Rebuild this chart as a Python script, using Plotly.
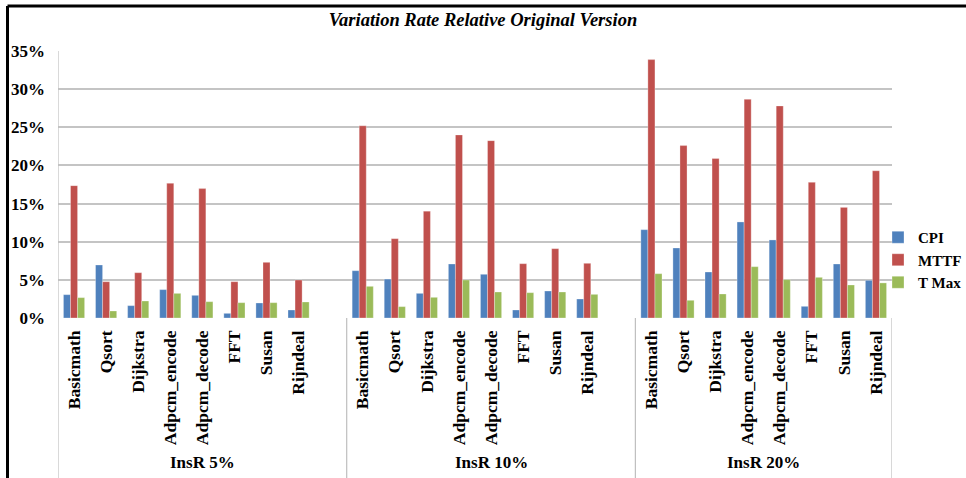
import plotly.graph_objects as go

benchmarks = ["Basicmath", "Qsort", "Dijkstra", "Adpcm_encode", "Adpcm_decode", "FFT", "Susan", "Rijndeal"]
groups = ["InsR 5%", "InsR 10%", "InsR 20%"]

cpi = [
    [3.06, 6.95, 1.62, 3.72, 2.97, 0.61, 1.97, 1.05],
    [6.2, 5.1, 3.23, 7.08, 5.73, 1.05, 3.54, 2.49],
    [11.58, 9.18, 6.03, 12.59, 10.23, 1.53, 7.08, 4.94],
]
mttf = [
    [17.35, 4.76, 5.94, 17.66, 16.96, 4.76, 7.3, 4.98],
    [25.2, 10.4, 14.0, 24.0, 23.25, 7.12, 9.09, 7.17],
    [33.87, 22.6, 20.9, 28.67, 27.8, 17.79, 14.5, 19.3],
]
tmax = [
    [2.67, 0.92, 2.23, 3.23, 2.14, 2.01, 2.01, 2.1],
    [4.15, 1.49, 2.71, 4.98, 3.41, 3.32, 3.41, 3.1],
    [5.81, 2.32, 3.15, 6.73, 5.03, 5.33, 4.33, 4.6],
]
y_ticks = [0, 5, 10, 15, 20, 25, 30, 35]

series = [("CPI", cpi, "#4F81BD"), ("MTTF", mttf, "#C0504D"), ("T Max", tmax, "#9BBB59")]

SLOT = len(benchmarks) + 1  # one blank slot between groups
xs = [g * SLOT + i for g in range(len(groups)) for i in range(len(benchmarks))]
xlabels = [b for _ in groups for b in benchmarks]

FONT = "Liberation Serif"
fig = go.Figure()
for name, vals, color in series:
    fig.add_trace(go.Bar(
        x=xs, y=[v / 100 for grp in vals for v in grp], name=name,
        marker=dict(color=color, line=dict(color="rgba(255,255,255,0.6)", width=0.5)),
    ))

W, H = 966, 478
L, R, T, B = 58, 892, 51, 318
def px_x(p):
    return (p - L) / (R - L)
def px_y(p):
    return (B - p) / (B - T)

shapes = []
# y axis line extended down
shapes.append(dict(type="line", xref="x", yref="paper", x0=-0.5, x1=-0.5, y0=px_y(480), y1=1,
                   line=dict(color="#bfbfbf", width=1.2)))
# group separators
for g in range(len(groups)):
    xb = g * SLOT + len(benchmarks) - 0.5 + (1 if g < len(groups) - 1 else 0)
    shapes.append(dict(type="line", xref="x", yref="paper", x0=xb, x1=xb, y0=px_y(480), y1=0,
                       line=dict(color="#bfbfbf", width=1.2)))
# outer black frame (top and left)
shapes.append(dict(type="line", xref="paper", yref="paper", x0=px_x(7.5), x1=px_x(966), y0=px_y(6), y1=px_y(6),
                   line=dict(color="black", width=3)))
shapes.append(dict(type="line", xref="paper", yref="paper", x0=px_x(7.5), x1=px_x(7.5), y0=px_y(6), y1=px_y(480),
                   line=dict(color="black", width=3)))

annotations = []
for g, gname in enumerate(groups):
    left = g * SLOT - 0.5
    right = g * SLOT + len(benchmarks) - 0.5 + (1 if g < len(groups) - 1 else 0)
    annotations.append(dict(x=(left + right) / 2, xref="x", y=px_y(462), yref="paper", text="<b>%s</b>" % gname,
                            showarrow=False, font=dict(family=FONT, size=17, color="black"),
                            xanchor="center", yanchor="middle"))

fig.update_layout(
    width=W, height=H,
    margin=dict(l=L, r=W - R, t=T, b=H - B, autoexpand=False),
    paper_bgcolor="white", plot_bgcolor="white",
    bargap=0.34, bargroupgap=0,
    title=dict(text="<b><i>Variation Rate Relative Original Version</i></b>", x=0.5, xref="container",
               y=1 - 20 / H, yref="container", xanchor="center", yanchor="middle",
               font=dict(family=FONT, size=18.5, color="black")),
    legend=dict(x=px_x(878), xref="paper", y=px_y(260), yref="paper", xanchor="left", yanchor="middle",
                font=dict(family=FONT, size=15, color="black", weight="bold"), bgcolor="rgba(0,0,0,0)",
                itemwidth=30, traceorder="normal"),
    shapes=shapes, annotations=annotations,
    font=dict(family=FONT, color="black"),
)
fig.update_xaxes(
    range=[-0.5, len(groups) * SLOT - 1.5], tickmode="array", tickvals=xs,
    ticktext=["<b>%s</b>" % t for t in xlabels], tickangle=-90,
    tickfont=dict(family=FONT, size=17.5, color="black"), showgrid=False, zeroline=False, showline=False,
    ticks="", ticklabelstandoff=8, fixedrange=True, automargin=False,
)
fig.update_yaxes(
    range=[0, 0.35], tickmode="array", tickvals=[v / 100 for v in y_ticks],
    ticktext=["<b>%d%%</b>" % v for v in y_ticks],
    tickfont=dict(family=FONT, size=17, color="black"), showgrid=True, gridcolor="#c4c4c4", gridwidth=1.5,
    zeroline=False, showline=False, ticks="", ticklabelstandoff=12, fixedrange=True, automargin=False,
)
fig.write_html("out.html", config={"displayModeBar": False},
               post_script="document.body.style.margin='0';document.body.style.overflow='hidden';")
